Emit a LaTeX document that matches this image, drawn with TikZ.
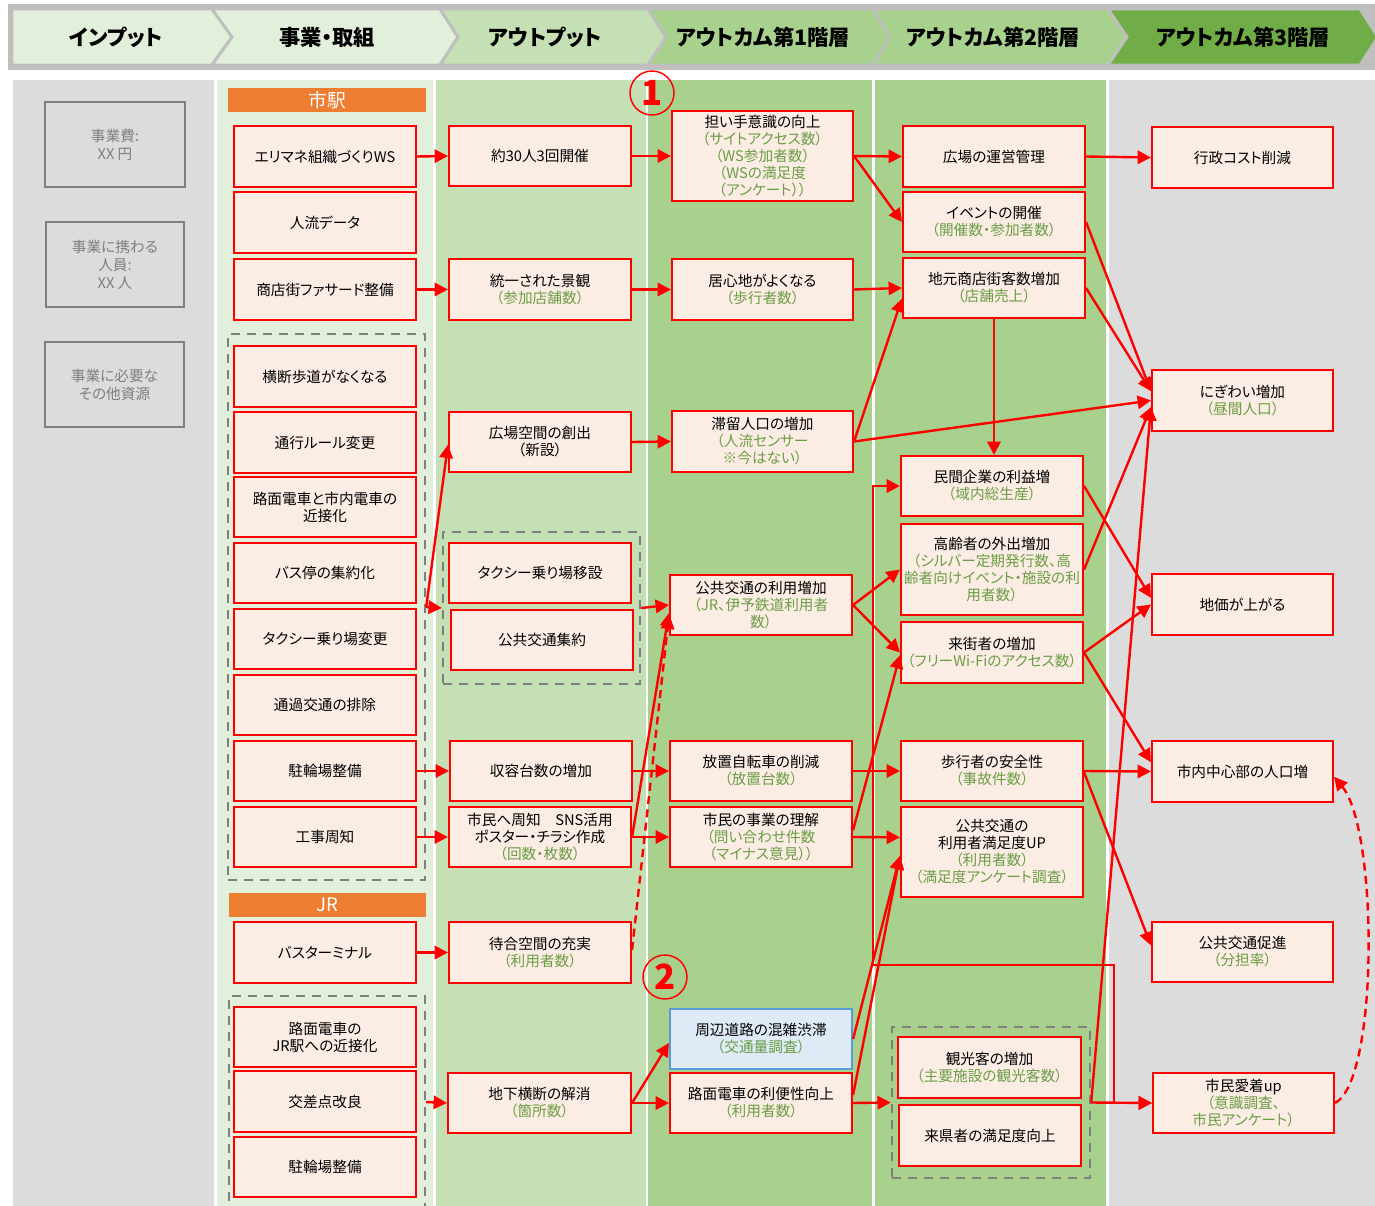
\documentclass[tikz,border=0pt]{standalone}
\usepackage{fontspec}
\setmainfont{Noto Sans CJK JP}[RawFeature=+palt]
\usetikzlibrary{arrows.meta,calc}
\definecolor{bxfill}{HTML}{FBECE4}
\definecolor{bxred}{HTML}{FF0000}
\definecolor{tgreen}{HTML}{6A9E45}
\definecolor{colgray}{HTML}{DCDCDC}
\definecolor{colA}{HTML}{E2EFDA}
\definecolor{colB}{HTML}{C5E0B4}
\definecolor{colC}{HTML}{A9D18E}
\definecolor{colD}{HTML}{70AD47}
\definecolor{hdrgray}{HTML}{BFBFBF}
\definecolor{grpgray}{HTML}{7F7F7F}
\definecolor{orng}{HTML}{ED7D31}
\definecolor{bfill}{HTML}{DEEBF7}
\definecolor{bline}{HTML}{5B9BD5}
\newcommand\grn[1]{\textcolor{tgreen}{#1}}
\newcommand\BX[6][]{\node[box,#1,minimum width={(#4-#2)*0.75pt},minimum height={(#5-#3)*0.75pt}] (#6) at ({(#2+#4)/2},{(#3+#5)/2})}
\begin{document}
\begin{tikzpicture}[x=0.75pt,y=-0.75pt,>={Triangle[length=10pt,width=10pt]},
  box/.style={draw=bxred, fill=bxfill, line width=1.6pt, inner sep=0pt, align=center, font=\fontsize{11}{12.75}\selectfont},
  inbox/.style={fill=colgray, draw=grpgray, line width=1.2pt, text=grpgray, font=\fontsize{11}{13.5}\selectfont},
  grp/.style={fill=none, draw=grpgray, line width=1.8pt, dash pattern=on 7pt off 5pt},
  obar/.style={fill=orng, draw=none, text=white, font=\fontsize{14}{16}\selectfont},
  bluebox/.style={fill=bfill, draw=bline},
  hdr/.style={font=\fontsize{16}{18}\selectfont\bfseries, inner sep=0pt},
  chev/.style={draw=hdrgray, line width=2.2pt},
  arr/.style={draw=bxred, line width=1.8pt, ->},
  mark/.style={}, 
  numc/.style={circle, draw=bxred, line width=1.1pt, minimum size=33pt, inner sep=0pt, text=bxred, font=\fontsize{26}{26}\selectfont\bfseries}
]
\useasboundingbox (0,0) rectangle (1375,1206);
\clip (0,0) rectangle (1375,1206);
% column backgrounds
\fill[colgray] (13,80) rectangle (214,1206);
\fill[colA] (217,80) rectangle (433,1206);
\fill[colB] (436,80) rectangle (646,1206);
\fill[colC] (648,80) rectangle (872,1206);
\fill[colC] (875,80) rectangle (1106,1206);
\fill[colgray] (1109,80) rectangle (1375,1206);
% header
\fill[hdrgray] (8,4) rectangle (1375,70);
\filldraw[chev, fill=colA] (12,9) -- (212,9) -- (232,37) -- (212,65) -- (12,65) -- cycle;
\filldraw[chev, fill=colA] (212,9) -- (440,9) -- (458,37) -- (440,65) -- (212,65) -- (232,37) -- cycle;
\filldraw[chev, fill=colB] (440,9) -- (648,9) -- (666,37) -- (648,65) -- (440,65) -- (458,37) -- cycle;
\filldraw[chev, fill=colC] (648,9) -- (873,9) -- (890,37) -- (873,65) -- (648,65) -- (666,37) -- cycle;
\filldraw[chev, fill=colC] (873,9) -- (1108,9) -- (1127,37) -- (1108,65) -- (873,65) -- (890,37) -- cycle;
\filldraw[chev, fill=colD] (1108,9) -- (1360,9) -- (1378,37) -- (1360,65) -- (1108,65) -- (1127,37) -- cycle;
\node[hdr] (h1) at (116,37) {インプット};
\node[hdr] (h2) at (327,37) {事業・取組};
\node[hdr] (h3) at (545,37) {アウトプット};
\node[hdr] (h4) at (763,37) {アウトカム第1階層};
\node[hdr] (h5) at (993,37) {アウトカム第2階層};
\node[hdr] (h6) at (1243,37) {アウトカム第3階層};
% input column
\BX[inbox]{45}{102}{185}{187}{i1}{事業費:\\XX 円};
\BX[inbox]{46}{222}{184}{307}{i2}{事業に携わる\\人員:\\XX 人};
\BX[inbox]{45}{342}{184}{427}{i3}{事業に必要な\\その他資源};
% groups
\BX[grp]{228}{334}{425}{880}{g1}{};
\BX[grp]{229}{996}{425}{1208}{g2}{};
\BX[grp]{443}{532}{640}{684}{g3}{};
\BX[grp]{892}{1027}{1090}{1178}{g4}{};
% orange bars
\BX[obar]{228}{88}{426}{112}{o1}{市駅};
\BX[obar]{229}{893}{426}{917}{o2}{JR};
% column 2
\BX{234}{126}{416}{187}{a1}{エリマネ組織づくりWS};
\BX{234}{192}{416}{253}{a2}{人流データ};
\BX{234}{259}{416}{320}{a3}{商店街ファサード整備};
\BX{234}{346}{416}{407}{a4}{横断歩道がなくなる};
\BX{234}{412}{416}{473}{a5}{通行ルール変更};
\BX{234}{477}{416}{537}{a6}{路面電車と市内電車の\\近接化};
\BX{234}{543}{416}{603}{a7}{バス停の集約化};
\BX{234}{609}{416}{669}{a8}{タクシー乗り場変更};
\BX{234}{675}{416}{735}{a9}{通過交通の排除};
\BX{234}{741}{416}{801}{a10}{駐輪場整備};
\BX{234}{807}{416}{867}{a11}{工事周知};
\BX{234}{922}{416}{983}{a12}{バスターミナル};
\BX{234}{1007}{416}{1067}{a13}{路面電車の\\JR駅への近接化};
\BX{234}{1071}{416}{1132}{a14}{交差点改良};
\BX{234}{1137}{416}{1197}{a15}{駐輪場整備};
% column 3
\BX{449}{126}{631}{186}{b1}{約30人3回開催};
\BX{449}{259}{631}{320}{b2}{統一された景観\\\grn{（参加店舗数）}};
\BX{449}{412}{631}{472}{b3}{広場空間の創出\\（新設）};
\BX{449}{543}{631}{603}{b4}{タクシー乗り場移設};
\BX{451}{610}{633}{670}{b5}{公共交通集約};
\BX{450}{741}{632}{801}{b6}{収容台数の増加};
\BX{449}{807}{631}{867}{b7}{市民へ周知　SNS活用\\ポスター・チラシ作成\\\grn{（回数・枚数）}};
\BX{449}{922}{631}{983}{b8}{待合空間の充実\\\grn{（利用者数）}};
\BX{448}{1073}{631}{1133}{b9}{地下横断の解消\\\grn{（箇所数）}};
% column 4
\BX{672}{111}{853}{201}{c1}{担い手意識の向上\\\grn{（サイトアクセス数）}\\\grn{（WS参加者数）}\\\grn{（WSの満足度}\\\grn{（アンケート））}};
\BX{672}{259}{853}{320}{c2}{居心地がよくなる\\\grn{（歩行者数）}};
\BX{672}{411}{853}{472}{c3}{滞留人口の増加\\\grn{（人流センサー}\\\grn{※今はない）}};
\BX{670}{575}{852}{635}{c4}{公共交通の利用増加\\\grn{（JR、伊予鉄道利用者}\\\grn{数）}};
\BX{670}{741}{852}{801}{c5}{放置自転車の削減\\\grn{（放置台数）}};
\BX{670}{807}{852}{867}{c6}{市民の事業の理解\\\grn{（問い合わせ件数}\\\grn{（マイナス意見））}};
\BX[bluebox]{670}{1009}{852}{1069}{c7}{周辺道路の混雑渋滞\\\grn{（交通量調査）}};
\BX{670}{1073}{852}{1133}{c8}{路面電車の利便性向上\\\grn{（利用者数）}};
% column 5
\BX{903}{126}{1085}{187}{d1}{広場の運営管理};
\BX{903}{192}{1085}{252}{d2}{イベントの開催\\\grn{（開催数・参加者数）}};
\BX{903}{258}{1085}{318}{d3}{地元商店街客数増加\\\grn{（店舗売上）}};
\BX{901}{456}{1083}{516}{d4}{民間企業の利益増\\\grn{（域内総生産）}};
\BX{901}{524}{1083}{615}{d5}{高齢者の外出増加\\\grn{（シルバー定期発行数、高}\\\grn{齢者向けイベント・施設の利}\\\grn{用者数）}};
\BX{901}{622}{1083}{683}{d6}{来街者の増加\\\grn{（フリーWi-Fiのアクセス数）}};
\BX{901}{741}{1083}{801}{d7}{歩行者の安全性\\\grn{（事故件数）}};
\BX{901}{807}{1083}{897}{d8}{公共交通の\\利用者満足度UP\\\grn{（利用者数）}\\\grn{（満足度アンケート調査）}};
\BX{898}{1037}{1081}{1098}{d9}{観光客の増加\\\grn{（主要施設の観光客数）}};
\BX{899}{1105}{1081}{1166}{d10}{来県者の満足度向上};
% column 6
\BX{1152}{127}{1333}{188}{e1}{行政コスト削減};
\BX{1152}{370}{1333}{431}{e2}{にぎわい増加\\\grn{（昼間人口）}};
\BX{1152}{574}{1333}{635}{e3}{地価が上がる};
\BX{1152}{741}{1333}{802}{e4}{市内中心部の人口増};
\BX{1152}{922}{1333}{982}{e5}{公共交通促進\\\grn{（分担率）}};
\BX{1153}{1073}{1334}{1133}{e6}{市民愛着up\\\grn{（意識調査、}\\\grn{市民アンケート）}};
% number marks
\node[numc] (m1) at (652,93) {1};
\node[numc] (m2) at (665,977) {2};
% elbow coordinates
\coordinate (k1) at (873,965);
\coordinate (k2) at (1114,965);
% connectors
\draw[arr] (a1.east) -- (b1.west);
\draw[arr] (b1.east) -- (c1.west);
\draw[arr] (c1.east) -- (d1.west);
\draw[arr] (c1.east) -- (d2.west);
\draw[arr] (d1.east) -- (e1.west);
\draw[arr] (a3.east) -- (b2.west);
\draw[arr] (b2.east) -- (c2.west);
\draw[arr] (c2.east) -- (d3.west);
\draw[arr] (g1.east) -- (g3.west);
\draw[arr] (g1.east) -- ([yshift=-2pt]b3.west);
\draw[arr] (b3.east) -- (c3.west);
\draw[arr] (c3.east) -- ([yshift=-8pt]d3.west);
\draw[arr] (c3.east) -- (e2.west);
\draw[arr] (d2.east) -- ([yshift=7pt]e2.west);
\draw[arr] (d3.east) -- ([yshift=7pt]e2.west);
\draw[arr] (d3.south) -- (d3.south |- d4.north);
\draw[arr] (a10.east) -- (b6.west);
\draw[arr] (a11.east) -- (b7.west);
\draw[arr] (b6.east) -- (c5.west);
\draw[arr] (b7.east) -- (c6.west);
\draw[arr] (g3.east) -- (c4.west);
\draw[arr] (b7.east) -- ([yshift=-6pt]c4.west);
\draw[arr, dash pattern=on 6pt off 4pt] ([yshift=2pt]b8.east) -- ([yshift=-8pt]c4.west);
\draw[arr] (c4.east) -- (d5.west);
\draw[arr] (c4.east) -- (d6.west);
\draw[arr] (c5.east) -- (d7.west);
\draw[arr] (c6.east) -- ([yshift=11pt]d8.west);
\draw[arr] ([yshift=5pt]c6.east) -- ([yshift=-2pt]d6.west);
\draw[arr] (c7.east) -- ([yshift=-3pt]d8.west);
\draw[arr] ([yshift=6pt]c8.east) -- ([yshift=-3pt]d8.west);
\draw[arr] (c8.east) -- (g4.west);
\draw[arr] (b9.east) -- (c8.west);
\draw[arr] (b9.east) -- ([yshift=-3pt]c7.west);
\draw[arr] (g2.east) -- (b9.west);
\draw[arr] (a12.east) -- (b8.west);
\draw[arr] (d4.east) -- ([yshift=5pt]e3.west);
\draw[arr] (d5.east) -- ([yshift=-5pt]e2.west);
\draw[arr] (d6.east) -- (e3.west);
\draw[arr] (d6.east) -- ([yshift=7pt]e4.west);
\draw[arr] (d7.east) -- (e4.west);
\draw[arr] ([yshift=-1pt]d7.east) -- ([yshift=5pt]e5.west);
\draw[arr] (g4.east) -- (e6.west);
\draw[arr] (g4.east) -- ([yshift=-5pt]e2.west);
\draw[arr, <->] (d4.west) -| (k1) -- (k2) |- (e6.west);
\draw[arr, dash pattern=on 6pt off 4pt] (e6.east) .. controls ($(e6.east)+(44,-23)$) and ($(e4.east)+(44,58)$) .. ([yshift=-4pt]e4.east);
\end{tikzpicture}
\end{document}
